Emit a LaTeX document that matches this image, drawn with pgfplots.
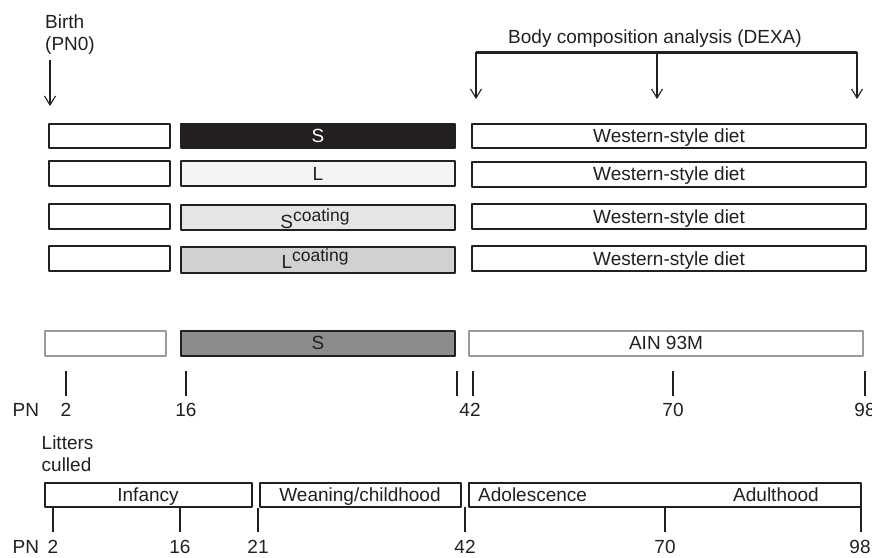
\documentclass[border=0pt]{standalone}
\usepackage{pgfplots}
\pgfplotsset{compat=1.18}
\usepackage{fontspec}
\setmainfont{Liberation Sans}
\usetikzlibrary{arrows.meta}
\definecolor{ink}{HTML}{231F20}
\definecolor{fillL}{HTML}{F3F4F4}
\definecolor{fillSc}{HTML}{E4E5E6}
\definecolor{fillLc}{HTML}{D0D1D3}
\definecolor{fillS2}{HTML}{8B8C8E}
\definecolor{edge2}{HTML}{9A9B9D}
\tikzset{
  box/.style={line width=2.9pt, line join=round, draw=ink},
  tk/.style={line width=2.6pt, draw=ink},
  lbl/.style={font=\fontsize{19}{22}\selectfont, text=ink, inner sep=0pt, anchor=base},
  arr/.style={line width=1.1pt, draw=ink, -{Straight Barb[length=9pt,width=11pt,line width=1.1pt]}}}
\begin{document}
\begin{tikzpicture}
\begin{axis}[name=ax, x=1pt, y=1pt, xmin=0, xmax=872, ymin=0, ymax=557,
  y dir=reverse, hide axis, scale only axis, clip=false,
  every axis plot/.append style={mark=none}]
% invisible extent
\addplot[draw=none] coordinates {(0,0) (872,557)};
% ---- row 1
\addplot[box, fill=white] coordinates {(49,124)(170,124)(170,148)(49,148)} -- cycle;
\addplot[box, fill=ink] coordinates {(181,124)(455,124)(455,148)(181,148)} -- cycle;
\addplot[box, fill=white] coordinates {(472,124)(866,124)(866,148)(472,148)} -- cycle;
% ---- row 2
\addplot[box, fill=white] coordinates {(49,161)(170,161)(170,186)(49,186)} -- cycle;
\addplot[box, fill=fillL] coordinates {(181,161)(455,161)(455,186)(181,186)} -- cycle;
\addplot[box, fill=white] coordinates {(472,162)(866,162)(866,187)(472,187)} -- cycle;
% ---- row 3
\addplot[box, fill=white] coordinates {(49,204)(170,204)(170,229)(49,229)} -- cycle;
\addplot[box, fill=fillSc] coordinates {(181,205)(455,205)(455,230)(181,230)} -- cycle;
\addplot[box, fill=white] coordinates {(472,204)(866,204)(866,229)(472,229)} -- cycle;
% ---- row 4
\addplot[box, fill=white] coordinates {(49,246)(170,246)(170,271)(49,271)} -- cycle;
\addplot[box, fill=fillLc] coordinates {(181,247)(455,247)(455,273)(181,273)} -- cycle;
\addplot[box, fill=white] coordinates {(472,246)(866,246)(866,271)(472,271)} -- cycle;
% ---- row 5
\addplot[box, draw=edge2, fill=white] coordinates {(45,331)(166,331)(166,356)(45,356)} -- cycle;
\addplot[box, fill=fillS2] coordinates {(181,331)(455,331)(455,356)(181,356)} -- cycle;
\addplot[box, draw=edge2, fill=white] coordinates {(469,331)(863,331)(863,356)(469,356)} -- cycle;
% ---- top ticks
\addplot[tk] coordinates {(66,371)(66,396)};
\addplot[tk] coordinates {(186,371)(186,396)};
\addplot[tk] coordinates {(457,371)(457,396)};
\addplot[tk] coordinates {(473,371)(473,396)};
\addplot[tk] coordinates {(673,371)(673,396)};
\addplot[tk] coordinates {(865,371)(865,396)};
% ---- bottom boxes
\addplot[box, fill=white] coordinates {(45,483)(252,483)(252,507)(45,507)} -- cycle;
\addplot[box, fill=white] coordinates {(260,483)(461,483)(461,507)(260,507)} -- cycle;
\addplot[box, fill=white] coordinates {(469,483)(861,483)(861,507)(469,507)} -- cycle;
% ---- bottom ticks
\addplot[tk] coordinates {(53,507)(53,532)};
\addplot[tk] coordinates {(180,507)(180,532)};
\addplot[tk] coordinates {(258,508)(258,532)};
\addplot[tk] coordinates {(465,507)(465,532)};
\addplot[tk] coordinates {(665,507)(665,532)};
\addplot[tk] coordinates {(861,507)(861,532)};
% ---- arrows
\addplot[arr] coordinates {(50,60)(50,106)};
\addplot[line width=3pt, draw=ink] coordinates {(476,52)(857,52)};
\addplot[arr] coordinates {(476,52)(476,99)};
\addplot[arr] coordinates {(657,52)(657,99)};
\addplot[arr] coordinates {(857,52)(857,99)};
% ---- texts
\node[lbl, anchor=base west] at (axis cs:45,28) {Birth};
\node[lbl, anchor=base west] at (axis cs:45,50) {(PN0)};
\node[lbl] at (axis cs:655,43) {Body composition analysis (DEXA)};
\node[lbl, text=white] at (axis cs:318,142.5) {S};
\node[lbl] at (axis cs:318,180) {L};
\node[lbl] at (axis cs:315,228) {S\raisebox{7pt}{\fontsize{17.5}{20}\selectfont coating}};
\node[lbl] at (axis cs:315,268) {L\raisebox{7pt}{\fontsize{17.5}{20}\selectfont coating}};
\node[lbl] at (axis cs:669,142.5) {Western-style diet};
\node[lbl] at (axis cs:669,180.5) {Western-style diet};
\node[lbl] at (axis cs:669,223) {Western-style diet};
\node[lbl] at (axis cs:669,265) {Western-style diet};
\node[lbl] at (axis cs:318,349.5) {S};
\node[lbl] at (axis cs:666,349.5) {AIN 93M};
\node[lbl, anchor=base west] at (axis cs:12.5,416.5) {PN};
\node[lbl] at (axis cs:66,416.5) {2};
\node[lbl] at (axis cs:186,416.5) {16};
\node[lbl] at (axis cs:470,416.5) {42};
\node[lbl] at (axis cs:673,416.5) {70};
\node[lbl] at (axis cs:865,416.5) {98};
\node[lbl, anchor=base west] at (axis cs:41.5,449) {Litters};
\node[lbl, anchor=base west] at (axis cs:41.5,471.5) {culled};
\node[lbl] at (axis cs:148,501.5) {Infancy};
\node[lbl] at (axis cs:360,501.5) {Weaning/childhood};
\node[lbl, anchor=base west] at (axis cs:478,501.5) {Adolescence};
\node[lbl, anchor=base west] at (axis cs:733,501.5) {Adulthood};
\node[lbl, anchor=base west] at (axis cs:12.5,553) {PN};
\node[lbl] at (axis cs:53,553) {2};
\node[lbl] at (axis cs:180,553) {16};
\node[lbl] at (axis cs:258,553) {21};
\node[lbl] at (axis cs:465,553) {42};
\node[lbl] at (axis cs:665,553) {70};
\node[lbl] at (axis cs:860,553) {98};
\end{axis}
\pgfresetboundingbox
\path[use as bounding box] (ax.south west) rectangle (ax.north east);
\end{tikzpicture}
\end{document}
